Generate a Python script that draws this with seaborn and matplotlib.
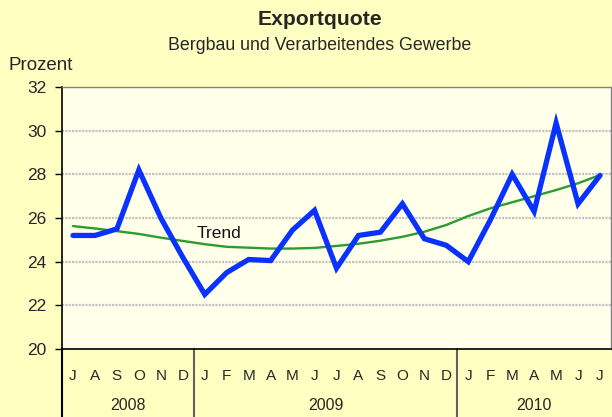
import matplotlib
matplotlib.use("Agg")
import matplotlib.pyplot as plt
import matplotlib.transforms as mtransforms
import seaborn as sns
import pandas as pd
import numpy as np

# ---- data ----
years = ["2008", "2009", "2010"]
months_per_year = [
    ["J", "A", "S", "O", "N", "D"],
    ["J", "F", "M", "A", "M", "J", "J", "A", "S", "O", "N", "D"],
    ["J", "F", "M", "A", "M", "J", "J"],
]
exportquote = [25.2, 25.2, 25.5, 28.2, 26.0, 24.2,
               22.5, 23.5, 24.1, 24.05, 25.45, 26.35, 23.7, 25.2, 25.35, 26.65, 25.05, 24.75,
               24.0, 25.9, 28.0, 26.3, 30.35, 26.65, 27.95]
trend = [25.63, 25.52, 25.4, 25.27, 25.1, 24.95,
         24.8, 24.68, 24.64, 24.6, 24.6, 24.63, 24.72, 24.82, 24.96, 25.14, 25.37, 25.68,
         26.09, 26.44, 26.72, 27.0, 27.28, 27.59, 27.97]
y_ticks = [20, 22, 24, 26, 28, 30, 32]

month_labels = [m for ms in months_per_year for m in ms]
n = len(month_labels)
df = pd.DataFrame({"idx": np.arange(n), "Exportquote": exportquote, "Trend": trend})

sns.set_theme(style="white")
plt.rcParams["font.family"] = ["Liberation Sans", "DejaVu Sans"]

fig_bg = "#FFFFC2"
ax_bg = "#FFFFEA"
W, H = 612, 417
fig = plt.figure(figsize=(W / 100, H / 100), dpi=100, facecolor=fig_bg)
left, right, top, bottom = 62, 611, 87, 349
ax = fig.add_axes([left / W, (H - bottom) / H, (right - left) / W, (bottom - top) / H])
ax.set_facecolor(ax_bg)

# gridlines
for yv in y_ticks[1:]:
    ax.axhline(yv, color="#c4c4c4", lw=1.6, ls=(0, (1, 0.5)), zorder=1)

sns.lineplot(data=df, x="idx", y="Trend", ax=ax, color="#2E9B2E", lw=1.7, zorder=3)
sns.lineplot(data=df, x="idx", y="Exportquote", ax=ax, color="#0A32FF", lw=3.8, zorder=4,
             solid_joinstyle="miter")

ax.set_xlim(-0.5, n - 0.5)
ax.set_ylim(y_ticks[0], y_ticks[-1])
ax.set_yticks(y_ticks)
ax.set_yticklabels([str(v) for v in y_ticks], fontsize=12.5)
ax.tick_params(axis="y", direction="out", length=5, width=1, color="black", pad=6, left=True)
ax.set_xticks(np.arange(n))
ax.set_xticklabels(month_labels, fontsize=11)
ax.tick_params(axis="x", length=0, pad=14.5)
ax.set_xlabel("")
ax.set_ylabel("")

for s in ["left", "bottom"]:
    ax.spines[s].set_color("black")
    ax.spines[s].set_linewidth(1.2)
for s in ["top", "right"]:
    ax.spines[s].set_color("#808080")
    ax.spines[s].set_linewidth(1.0)

# year separators and labels in the category area
trans = mtransforms.blended_transform_factory(ax.transData, ax.transAxes)
axis_below = -(H - bottom) / (bottom - top)
bounds = np.cumsum([0] + [len(m) for m in months_per_year]) - 0.5
for b in bounds[:-1]:
    ax.plot([b, b], [0, axis_below], transform=trans, color="#606060" if b > -0.5 else "black",
            lw=1.5, clip_on=False)
for i, yr in enumerate(years):
    cx = (bounds[i] + bounds[i + 1]) / 2
    ax.text(cx, -(406 - bottom) / (bottom - top), yr, transform=trans, ha="center", va="center",
            fontsize=11.5)

ax.text(5.65, 25.3, "Trend", ha="left", va="center", fontsize=12.5, color="#111111")

fig.text(320 / W, 1 - 19.5 / H, "Exportquote", ha="center", va="center", fontsize=15.2, fontweight="bold")
fig.text(320 / W, 1 - 45 / H, "Bergbau und Verarbeitendes Gewerbe", ha="center", va="center",
         fontsize=12.8)
fig.text(9 / W, 1 - 65 / H, "Prozent", ha="left", va="center", fontsize=13.5)

fig.savefig("out.png", dpi=100, facecolor=fig_bg)
